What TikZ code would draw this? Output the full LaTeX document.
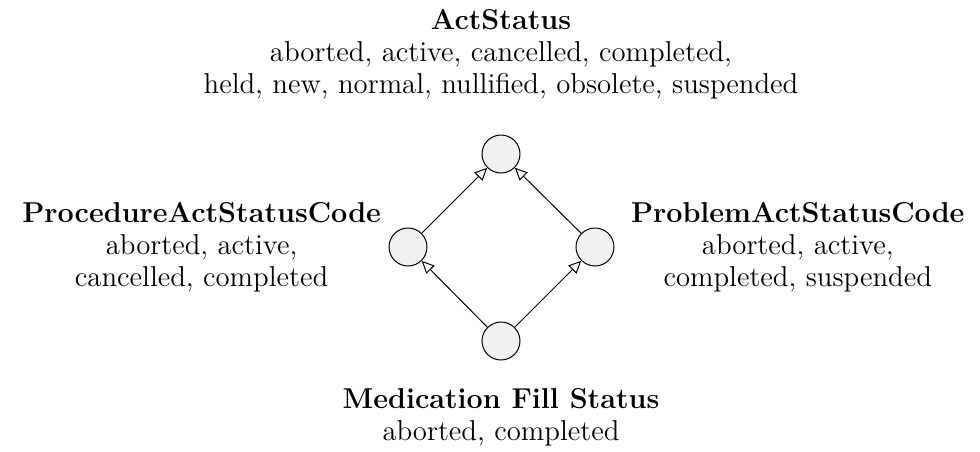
\documentclass[tikz,border=0pt]{standalone}
\usepackage{amsmath}
\usepackage{xcolor}
\usepackage{tikz}
\usetikzlibrary{arrows.meta}
\usetikzlibrary{positioning}

\begin{document}
\begin{tikzpicture}[x=1pt,y=1pt,
	state/.style={circle,draw,fill=gray!11,minimum size=15.2pt,inner sep=0pt},
	label text/.style={align=center,inner sep=0pt,font=\fontsize{11.5}{12.8}\selectfont},
	sub/.style={-{Triangle[open,length=5pt,width=4.6pt]}}]
	\useasboundingbox (0,0) rectangle (392,180.4);
	
	\node[state] (act) at (200.4,118.8) {};
	\node[state] (proc) at (163.2,81.6) {};
	\node[state] (prob) at (238,81.6) {};
	\node[state] (fill) at (200.4,44) {};
	
	\draw[sub] (proc) -- (act);
	\draw[sub] (prob) -- (act);
	\draw[sub] (fill) -- (proc);
	\draw[sub] (fill) -- (prob);
	
	\node[label text,above=14pt of act] (act label) {\textbf{ActStatus}\\aborted, active, cancelled, completed,\\held, new, normal, nullified, obsolete, suspended};
	\node[label text,left=2.8pt of proc] (proc label) {\textbf{ProcedureActStatusCode}\\aborted, active,\\cancelled, completed};
	\node[label text,right=6.4pt of prob] (prob label) {\textbf{ProblemActStatusCode}\\aborted, active,\\completed, suspended};
	\node[label text,below=11pt of fill] (fill label) {\textbf{Medication Fill Status}\\aborted, completed};
	
\end{tikzpicture}
\end{document}
